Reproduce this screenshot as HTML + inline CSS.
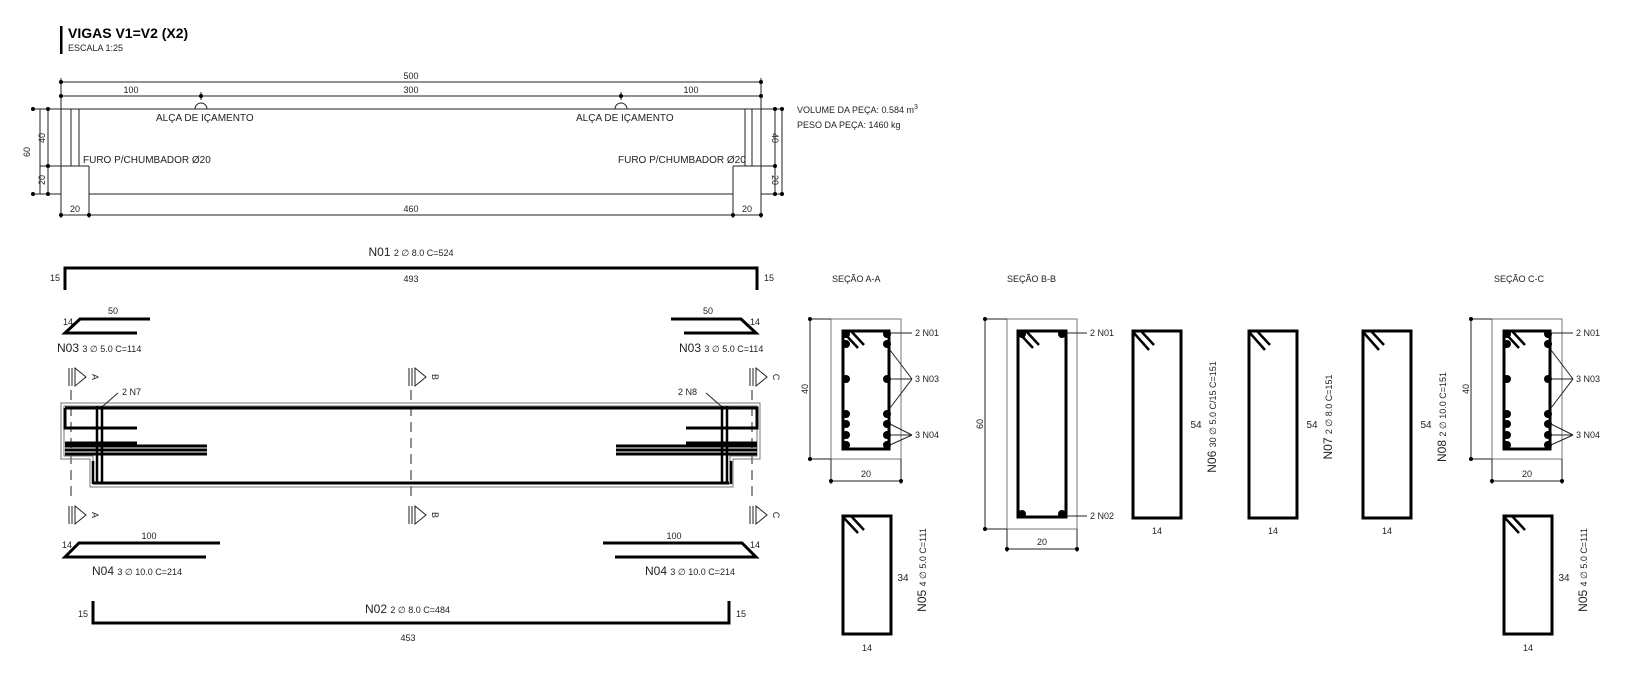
<!DOCTYPE html>
<html><head><meta charset="utf-8"><style>
html,body{margin:0;padding:0;background:#fff;}
svg{display:block;font-family:"Liberation Sans",sans-serif;}
text{fill:#222;}
.t{stroke:#222;stroke-width:1;fill:none;}
.g{stroke:#777;stroke-width:1;fill:none;}
.b{stroke:#000;stroke-width:3;fill:none;}
.s{font-size:9px;}
.m{font-size:10px;}
</style></head><body>
<svg width="1630" height="676" viewBox="0 0 1630 676" xmlns="http://www.w3.org/2000/svg">
<!-- title -->
<rect x="60" y="26" width="2.5" height="28" fill="#000"/>
<text x="68" y="38" style="font-size:14px;font-weight:bold;fill:#000">VIGAS V1=V2 (X2)</text>
<text x="68" y="51" class="s">ESCALA 1:25</text>

<!-- top elevation -->
<g class="t">
<line x1="61" y1="82" x2="761" y2="82"/>
<line x1="61" y1="96" x2="761" y2="96"/>
<line x1="201" y1="92" x2="201" y2="100"/><line x1="621" y1="92" x2="621" y2="100"/>
<line x1="61" y1="78" x2="61" y2="218"/><line x1="761" y1="78" x2="761" y2="218"/>
<path d="M33 109 H761 M40 166 H89 M33 194 H61 M733 166 H775 M761 194 H782 M761 109 H782"/>
<path d="M89 166 V218 M733 166 V218 M89 194 H733"/>
<line x1="61" y1="215" x2="761" y2="215"/>
<line x1="40" y1="109" x2="40" y2="194"/><line x1="48" y1="109" x2="48" y2="194"/>
<line x1="775" y1="109" x2="775" y2="194"/><line x1="782" y1="109" x2="782" y2="194"/>
<path d="M71 109 V166 M79 109 V166 M745 109 V166 M752 109 V166"/>
<path d="M195 109 A6 6 0 0 1 207 109 M615 109 A6 6 0 0 1 627 109"/>
</g>
<g fill="#000">
<circle cx="61" cy="82" r="2"/><circle cx="761" cy="82" r="2"/><circle cx="61" cy="96" r="2"/><circle cx="201" cy="96" r="2"/><circle cx="621" cy="96" r="2"/><circle cx="761" cy="96" r="2"/>
<circle cx="61" cy="215" r="2"/><circle cx="89" cy="215" r="2"/><circle cx="733" cy="215" r="2"/><circle cx="761" cy="215" r="2"/>
<circle cx="33" cy="109" r="2"/><circle cx="33" cy="194" r="2"/><circle cx="48" cy="109" r="2"/><circle cx="48" cy="166" r="2"/><circle cx="48" cy="194" r="2"/>
<circle cx="775" cy="109" r="2"/><circle cx="775" cy="166" r="2"/><circle cx="775" cy="194" r="2"/><circle cx="782" cy="109" r="2"/><circle cx="782" cy="194" r="2"/>
</g>
<text x="411" y="79" class="s" text-anchor="middle">500</text>
<text x="131" y="93" class="s" text-anchor="middle">100</text>
<text x="411" y="93" class="s" text-anchor="middle">300</text>
<text x="691" y="93" class="s" text-anchor="middle">100</text>
<text x="156" y="121" class="m">ALÇA DE IÇAMENTO</text>
<text x="576" y="121" class="m">ALÇA DE IÇAMENTO</text>
<text x="83" y="163" class="m">FURO P/CHUMBADOR Ø20</text>
<text x="618" y="163" class="m">FURO P/CHUMBADOR Ø20</text>
<text x="75" y="212" class="s" text-anchor="middle">20</text>
<text x="411" y="212" class="s" text-anchor="middle">460</text>
<text x="747" y="212" class="s" text-anchor="middle">20</text>
<text transform="translate(30,152) rotate(-90)" class="s" text-anchor="middle">60</text>
<text transform="translate(45,138) rotate(-90)" class="s" text-anchor="middle">40</text>
<text transform="translate(45,180) rotate(-90)" class="s" text-anchor="middle">20</text>
<text transform="translate(772,138) rotate(90)" class="s" text-anchor="middle">40</text>
<text transform="translate(772,180) rotate(90)" class="s" text-anchor="middle">20</text>
<text x="797" y="113" class="s">VOLUME DA PEÇA: 0.584 m<tspan dy="-4" style="font-size:7px">3</tspan></text>
<text x="797" y="128" class="s">PESO DA PEÇA: 1460 kg</text>

<!-- N01 -->
<text x="411" y="256" text-anchor="middle" style="font-size:12px">N01 <tspan class="s">2 ∅ 8.0 C=524</tspan></text>
<path class="b" d="M65 290 V268 H757 V290"/>
<text x="50" y="281" class="s">15</text><text x="764" y="281" class="s">15</text>
<text x="411" y="282" class="s" text-anchor="middle">493</text>
<!-- N03 -->
<path class="b" d="M150 319 H80 L65 333 H137"/>
<path class="b" d="M671 319 H741 L756 333 H684"/>
<text x="63" y="325" class="s">14</text><text x="113" y="314" class="s" text-anchor="middle">50</text>
<text x="750" y="325" class="s">14</text><text x="708" y="314" class="s" text-anchor="middle">50</text>
<text x="57" y="352" style="font-size:12px">N03 <tspan class="s">3 ∅ 5.0 C=114</tspan></text>
<text x="679" y="352" style="font-size:12px">N03 <tspan class="s">3 ∅ 5.0 C=114</tspan></text>

<!-- section marks -->
<g class="t">
<path d="M69 368 V386 M72 368 V386 M75 368 L86 377 L75 386 Z"/>
<path d="M409 368 V386 M412 368 V386 M415 368 L426 377 L415 386 Z"/>
<path d="M750 368 V386 M753 368 V386 M756 368 L767 377 L756 386 Z"/>
<path d="M69 506 V524 M72 506 V524 M75 506 L86 515 L75 524 Z"/>
<path d="M409 506 V524 M412 506 V524 M415 506 L426 515 L415 524 Z"/>
<path d="M750 506 V524 M753 506 V524 M756 506 L767 515 L756 524 Z"/>
<path d="M71 390 V500 M411 390 V500 M752 390 V500" stroke-dasharray="10 6"/>
</g>
<text transform="translate(92,377) rotate(90)" class="s" text-anchor="middle">A</text>
<text transform="translate(432,377) rotate(90)" class="s" text-anchor="middle">B</text>
<text transform="translate(773,377) rotate(90)" class="s" text-anchor="middle">C</text>
<text transform="translate(92,515) rotate(90)" class="s" text-anchor="middle">A</text>
<text transform="translate(432,515) rotate(90)" class="s" text-anchor="middle">B</text>
<text transform="translate(773,515) rotate(90)" class="s" text-anchor="middle">C</text>

<!-- beam elevation -->
<path class="g" d="M61 403 H760 V459 H733 V487 H90 V459 H61 Z"/>
<path class="g" d="M64 406 H757 V456 H730 V484 H93 V456 H64 Z" stroke="#aaa"/>
<g class="b">
<path d="M65 408 H757 V428 H686"/>
<path d="M65 408 V428 H137"/>
<line x1="65" y1="443" x2="137" y2="443"/><line x1="686" y1="443" x2="757" y2="443"/>
<line x1="65" y1="446" x2="207" y2="446"/><line x1="65" y1="450" x2="207" y2="450"/><line x1="65" y1="454" x2="207" y2="454"/>
<line x1="616" y1="446" x2="757" y2="446"/><line x1="616" y1="450" x2="757" y2="450"/><line x1="616" y1="454" x2="757" y2="454"/>
<line x1="93" y1="483" x2="729" y2="483"/>
</g>
<g stroke="#000" stroke-width="2.5">
<line x1="97" y1="406" x2="97" y2="484"/><line x1="102" y1="406" x2="102" y2="484"/><line x1="93" y1="461" x2="93" y2="484"/>
<line x1="722" y1="406" x2="722" y2="484"/><line x1="727" y1="406" x2="727" y2="484"/><line x1="731" y1="461" x2="731" y2="484"/>
</g>
<line class="t" x1="103" y1="406" x2="118" y2="393"/>
<line class="t" x1="721" y1="406" x2="706" y2="393"/>
<text x="122" y="395" class="s">2 N7</text>
<text x="678" y="395" class="s">2 N8</text>

<!-- N04 -->
<path class="b" d="M220 543 H79 L65 557 H206"/>
<path class="b" d="M603 543 H742 L756 557 H615"/>
<text x="62" y="548" class="s">14</text><text x="149" y="539" class="s" text-anchor="middle">100</text>
<text x="750" y="548" class="s">14</text><text x="674" y="539" class="s" text-anchor="middle">100</text>
<text x="92" y="575" style="font-size:12px">N04 <tspan class="s">3 ∅ 10.0 C=214</tspan></text>
<text x="645" y="575" style="font-size:12px">N04 <tspan class="s">3 ∅ 10.0 C=214</tspan></text>
<!-- N02 -->
<text x="365" y="613" style="font-size:12px">N02 <tspan class="s">2 ∅ 8.0 C=484</tspan></text>
<path class="b" d="M93 601 V623 H729 V601"/>
<text x="78" y="617" class="s">15</text><text x="736" y="617" class="s">15</text>
<text x="408" y="641" class="s" text-anchor="middle">453</text>

<!-- section titles -->
<text x="832" y="282" class="s">SEÇÃO A-A</text>
<text x="1007" y="282" class="s">SEÇÃO B-B</text>
<text x="1494" y="282" class="s">SEÇÃO C-C</text>

<!-- section A-A & C-C -->
<g id="sa">
<rect class="g" x="831" y="319" width="70" height="140"/>
<path class="t" d="M810 319 H831 M810 459 H831 M810 319 V459 M831 459 V484 M901 459 V484 M831 481 H901"/>
<circle cx="810" cy="319" r="2"/><circle cx="810" cy="459" r="2"/><circle cx="831" cy="481" r="2"/><circle cx="901" cy="481" r="2"/>
<text transform="translate(808,389) rotate(-90)" class="s" text-anchor="middle">40</text>
<text x="866" y="477" class="s" text-anchor="middle">20</text>
<rect class="b" x="843" y="331" width="46" height="118"/>
<path stroke="#000" stroke-width="2.5" d="M844 333 L858 348 M851 331 L864 345"/>
<g fill="#000">
<circle cx="846" cy="334" r="4"/><circle cx="887" cy="334" r="4"/><circle cx="887" cy="344" r="4"/><circle cx="846" cy="344" r="4"/>
<circle cx="846" cy="379" r="4"/><circle cx="887" cy="379" r="4"/>
<circle cx="846" cy="414" r="4"/><circle cx="846" cy="424" r="4"/><circle cx="846" cy="435" r="4"/><circle cx="846" cy="445" r="4"/>
<circle cx="887" cy="414" r="4"/><circle cx="887" cy="424" r="4"/><circle cx="887" cy="435" r="4"/><circle cx="887" cy="445" r="4"/>
</g>
<path class="t" d="M890 333 H912 M890 350 L912 379 M890 379 H912 M890 408 L912 379 M890 424 L912 435 M890 435 H912 M890 445 L912 435"/>
<text x="915" y="336" class="s">2 N01</text>
<text x="915" y="382" class="s">3 N03</text>
<text x="915" y="438" class="s">3 N04</text>
</g>
<use href="#sa" transform="translate(661,0)"/>

<!-- section B-B -->
<rect class="g" x="1007" y="319" width="70" height="210"/>
<path class="t" d="M985 319 H1007 M985 529 H1007 M985 319 V529 M1007 529 V552 M1077 529 V552 M1007 549 H1077"/>
<g fill="#000"><circle cx="985" cy="319" r="2"/><circle cx="985" cy="529" r="2"/><circle cx="1007" cy="549" r="2"/><circle cx="1077" cy="549" r="2"/></g>
<text transform="translate(983,424) rotate(-90)" class="s" text-anchor="middle">60</text>
<text x="1042" y="545" class="s" text-anchor="middle">20</text>
<rect class="b" x="1018" y="331" width="48" height="186"/>
<path stroke="#000" stroke-width="2.5" d="M1019 333 L1033 348 M1026 331 L1039 345"/>
<g fill="#000"><circle cx="1022" cy="334" r="4"/><circle cx="1062" cy="334" r="4"/><circle cx="1022" cy="514" r="4"/><circle cx="1062" cy="514" r="4"/></g>
<path class="t" d="M1066 333 H1087 M1066 516 H1087"/>
<text x="1090" y="336" class="s">2 N01</text>
<text x="1090" y="519" class="s">2 N02</text>

<!-- stirrups N06 N07 N08 -->
<g id="st">
<rect class="b" x="1133" y="331" width="48" height="187"/>
<path stroke="#000" stroke-width="2.5" d="M1134 333 L1149 350 M1141 331 L1154 345"/>
<text x="1196" y="428" class="m" text-anchor="middle">54</text>
<text x="1157" y="534" class="s" text-anchor="middle">14</text>
</g>
<use href="#st" transform="translate(116,0)"/>
<use href="#st" transform="translate(230,0)"/>
<text transform="translate(1216,417) rotate(-90)" text-anchor="middle" style="font-size:12px">N06 <tspan class="s">30 ∅ 5.0 C/15 C=151</tspan></text>
<text transform="translate(1332,417) rotate(-90)" text-anchor="middle" style="font-size:12px">N07 <tspan class="s">2 ∅ 8.0 C=151</tspan></text>
<text transform="translate(1446,417) rotate(-90)" text-anchor="middle" style="font-size:12px">N08 <tspan class="s">2 ∅ 10.0 C=151</tspan></text>

<!-- N05 -->
<g id="n5">
<rect class="b" x="843" y="516" width="48" height="118"/>
<path stroke="#000" stroke-width="2.5" d="M844 518 L858 533 M851 516 L864 530"/>
<text x="903" y="581" class="m" text-anchor="middle">34</text>
<text x="867" y="651" class="s" text-anchor="middle">14</text>
<text transform="translate(926,570) rotate(-90)" text-anchor="middle" style="font-size:12px">N05 <tspan class="s">4 ∅ 5.0 C=111</tspan></text>
</g>
<use href="#n5" transform="translate(661,0)"/>
</svg>
</body></html>
